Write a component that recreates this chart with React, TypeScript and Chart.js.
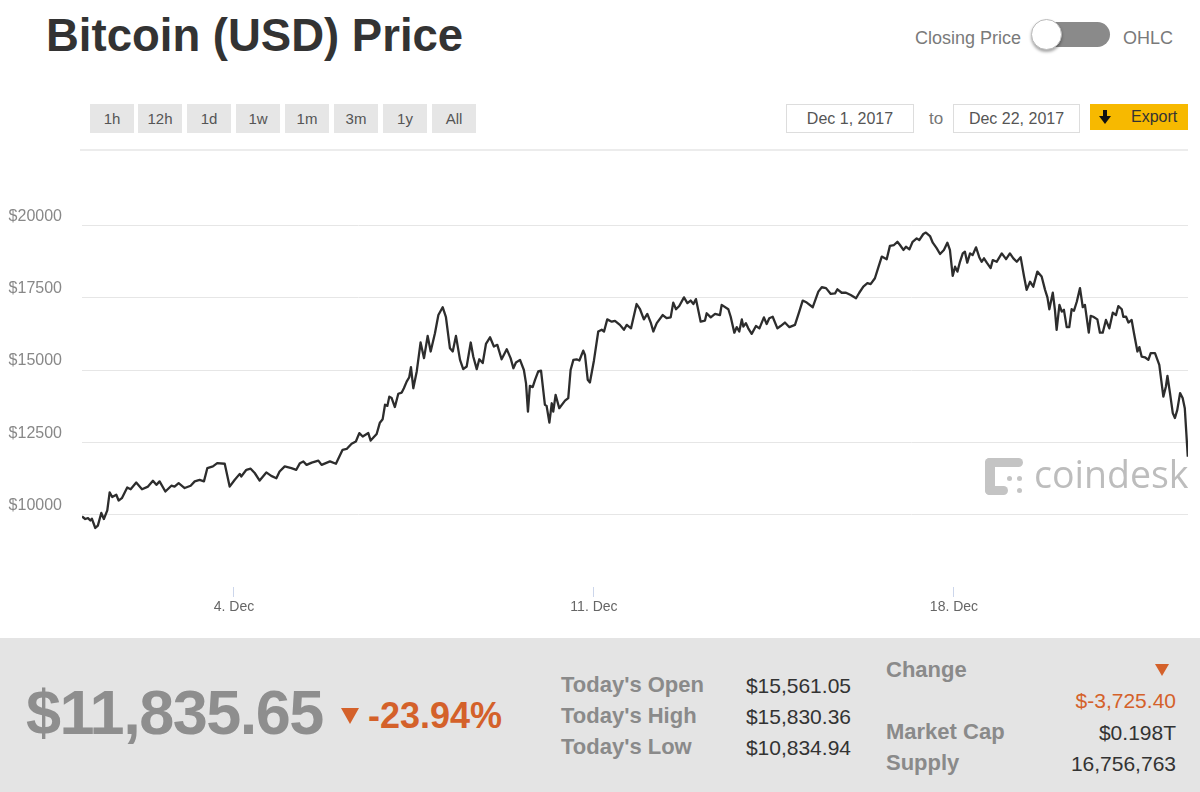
import React, { useEffect, useRef } from "react";
import { Chart, registerables } from "chart.js";

Chart.register(...registerables);

// Hours since 1 Dec 2017 00:00
const HOURS = [
  1.1, 2.6, 3.9, 5.0, 5.7, 7.3, 8.5, 10.1, 11.3, 12.9, 14.0, 15.2, 17.1, 18.2, 19.7, 22.2, 23.8, 26.4, 29.1, 31.9,
  34.2, 35.8, 37.3, 40.0, 42.8, 44.3, 46.2, 49.0, 51.8, 53.7, 56.0, 58.0, 59.6, 62.2, 64.2, 67.7, 70.0, 72.3, 74.7, 75.4,
  77.8, 79.8, 81.7, 84.0, 87.1, 89.4, 91.8, 93.3, 95.7, 98.8, 101.1, 102.8, 104.4, 105.9, 108.3, 111.4, 112.9, 116.8, 119.6, 122.7,
  124.6, 126.9, 128.9, 130.5, 132.1, 134.7, 135.8, 138.6, 140.1, 141.4, 142.5, 143.6, 144.5, 145.6, 147.1, 148.7, 150.3, 151.3, 152.6, 153.8,
  154.6, 155.7, 157.3, 159.1, 160.7, 162.4, 163.8, 165.8, 167.4, 169.4, 170.9, 172.8, 174.1, 175.6, 177.5, 179.0, 180.6, 182.5, 183.7, 185.3,
  186.5, 188.1, 189.6, 191.5, 193.3, 194.9, 196.9, 199.3, 201.1, 202.4, 203.6, 205.5, 207.3, 208.3, 209.2, 210.1, 211.4, 212.5, 214.0, 215.3,
  217.1, 217.9, 219.2, 220.3, 221.0, 222.1, 223.8, 226.5, 228.0, 229.1, 230.4, 231.9, 233.2, 233.8, 235.0, 235.8, 237.1, 238.1, 240.0, 242.0,
  243.6, 244.7, 246.2, 248.3, 249.8, 252.1, 254.0, 255.3, 257.3, 259.9, 261.5, 263.3, 264.9, 266.5, 267.7, 269.3, 272.1, 273.9, 275.8, 277.0,
  278.3, 279.8, 282.0, 283.6, 285.1, 286.4, 287.6, 289.8, 291.8, 292.6, 294.5, 296.5, 298.8, 299.6, 302.7, 303.8, 305.5, 306.6, 307.8, 309.0,
  309.7, 310.9, 312.0, 313.6, 315.6, 317.2, 319.3, 320.6, 321.8, 323.4, 325.6, 327.1, 329.1, 331.2, 333.8, 335.8, 337.4, 339.3, 342.1, 344.7,
  346.3, 348.3, 350.5, 352.5, 353.6, 355.6, 357.6, 359.8, 362.3, 363.8, 365.7, 367.6, 369.1, 371.1, 372.7, 374.3, 376.6, 378.1, 380.0, 381.6,
  382.8, 384.4, 385.6, 387.2, 388.7, 390.6, 391.8, 393.7, 394.9, 396.8, 398.1, 399.9, 401.5, 403.3, 404.9, 406.1, 407.4, 408.5, 409.6, 410.8,
  412.1, 413.1, 414.2, 415.5, 416.7, 418.3, 419.8, 420.9, 422.0, 423.3, 425.1, 426.1, 427.9, 430.3, 432.3, 434.1, 435.7, 437.3, 439.1, 440.7,
  441.9, 443.5, 445.0, 446.9, 448.9, 450.5, 451.6, 452.5, 454.1, 455.1, 455.9, 457.2, 458.3, 459.3, 460.6, 461.8, 462.9, 464.0, 465.3, 466.8,
  468.1, 469.1, 470.9, 471.8, 473.0, 474.9, 476.1, 477.4, 478.9, 480.5, 482.1, 483.6, 484.7, 486.3, 487.0, 488.3, 489.4, 490.9, 492.0, 493.6,
  494.5, 495.6, 497.1, 498.7, 499.8, 501.8, 503.8, 505.7, 506.9, 507.6, 508.8, 510.1, 511.1, 512.2, 513.5, 514.7, 515.7, 517.1,
];

// Closing price, USD
const PRICES = [
  9940, 9850, 9880, 9800, 9860, 9540, 9620, 10060, 9850, 10150, 10770, 10610, 10690, 10490, 10570, 10940, 10880, 11110, 10880, 10970,
  11170, 11030, 11150, 10800, 11000, 10970, 11090, 10920, 11000, 11150, 11200, 11150, 11610, 11670, 11780, 11760, 10970, 11200, 11410, 11320,
  11550, 11590, 11440, 11180, 11460, 11340, 11260, 11490, 11670, 11610, 11550, 11780, 11840, 11720, 11800, 11870, 11720, 11840, 11760, 12240,
  12270, 12450, 12530, 12820, 12700, 12820, 12560, 12790, 13180, 13300, 13800, 13760, 14080, 14030, 13720, 14180, 14220, 14370, 14600, 14750,
  15100, 14370, 14950, 15950, 15410, 16180, 15640, 16270, 16900, 17170, 16840, 15750, 15640, 16180, 15350, 15030, 15120, 15950, 15460, 15030,
  15370, 15240, 15900, 16130, 15810, 15870, 15370, 15720, 15410, 15060, 15260, 15350, 15000, 14540, 13560, 14450, 14410, 14660, 14950, 14980,
  13800, 13760, 13180, 13850, 13560, 14140, 13680, 13940, 14030, 15000, 15350, 15370, 15330, 15440, 15670, 15520, 14660, 14570, 15330, 16330,
  16390, 16330, 16750, 16670, 16700, 16560, 16390, 16560, 16440, 17280, 17100, 16750, 16940, 16640, 16330, 16620, 16900, 16790, 16820, 17330,
  17100, 17210, 17510, 17310, 17400, 17280, 17450, 16670, 16710, 16960, 16820, 16940, 16900, 17250, 17100, 16840, 16290, 16480, 16330, 16750,
  16500, 16620, 16440, 16250, 16520, 16440, 16820, 16590, 16790, 16840, 16440, 16520, 16640, 16480, 16560, 17020, 17400, 17330, 17170, 17710,
  17860, 17830, 17630, 17650, 17790, 17670, 17670, 17590, 17480, 17670, 17880, 18000, 17970, 18170, 18550, 18920, 18830, 19290, 19320, 19430,
  19320, 19150, 19260, 19170, 19430, 19550, 19490, 19700, 19750, 19630, 19400, 19210, 19010, 19150, 19400, 19150, 18250, 18570, 18400, 18740,
  19030, 19090, 18710, 19030, 18970, 19240, 18900, 18740, 18860, 18710, 18520, 18800, 18740, 19030, 18830, 19030, 18860, 18740, 18900, 18230,
  17770, 18050, 17880, 18400, 18230, 17770, 17510, 17100, 17670, 17080, 16390, 17250, 17020, 17080, 16480, 16480, 17100, 17050, 17360, 17830,
  17170, 17250, 16290, 16870, 16840, 16750, 16290, 16290, 16730, 16440, 16980, 16900, 17210, 17100, 16840, 16840, 16640, 16730, 16270, 15640,
  15790, 15460, 15440, 15350, 15580, 15580, 15180, 14080, 14430, 14800, 14200, 13510, 13340, 13620, 14200, 14030, 13680, 12000,
];

const X_TICK_HOURS = [72, 240, 408];
const X_TICK_LABELS = ["4. Dec", "11. Dec", "18. Dec"];
const Y_TICKS = [7500, 10000, 12500, 15000, 17500, 20000, 22500];
const X_MIN = 1.1;
const X_MAX = 517.2;
const Y_MIN = 7500;
const Y_MAX = 22500;

const RANGE_BUTTONS = ["1h", "12h", "1d", "1w", "1m", "3m", "1y", "All"];
const DATE_FROM = "Dec 1, 2017";
const DATE_TO = "Dec 22, 2017";
const CURRENT_PRICE = "$11,835.65";
const CHANGE_PCT = "-23.94%";
const STATS_LEFT = [
  ["Today's Open", "$15,561.05"],
  ["Today's High", "$15,830.36"],
  ["Today's Low", "$10,834.94"],
];
const CHANGE_VALUE = "$-3,725.40";
const MARKET_CAP = "$0.198T";
const SUPPLY = "16,756,763";

const FONT = '"Liberation Sans", Arial, "DejaVu Sans", sans-serif';
const ORANGE = "#d4612a";

function abs(left: number, top: number, extra: React.CSSProperties = {}): React.CSSProperties {
  return { position: "absolute", left, top, ...extra };
}

function Txt(props: {
  text: string;
  cy: number;
  size: number;
  left?: number;
  right?: number;
  bold?: boolean;
  color?: string;
  spacing?: number;
}) {
  const { text, cy, size, left, right, bold, color, spacing } = props;
  const st: React.CSSProperties = {
    position: "absolute",
    top: cy - size / 2,
    fontSize: size,
    lineHeight: `${size}px`,
    fontWeight: bold ? 700 : 400,
    color: color || "#333",
    whiteSpace: "nowrap",
    letterSpacing: spacing ?? 0,
    fontFamily: FONT,
  };
  if (left !== undefined) st.left = left;
  if (right !== undefined) st.right = right;
  return <div style={st}>{text}</div>;
}

function Triangle(props: { left: number; top: number; w: number; h: number; color: string }) {
  const { left, top, w, h, color } = props;
  return (
    <div
      style={abs(left, top, {
        width: 0,
        height: 0,
        borderLeft: `${w / 2}px solid transparent`,
        borderRight: `${w / 2}px solid transparent`,
        borderTop: `${h}px solid ${color}`,
      })}
    />
  );
}

export default function App() {
  const canvasRef = useRef<HTMLCanvasElement | null>(null);

  useEffect(() => {
    if (!canvasRef.current) return;
    const chart = new Chart(canvasRef.current, {
      type: "line",
      data: {
        datasets: [
          {
            data: HOURS.map((h, i) => ({ x: h, y: PRICES[i] })),
            borderColor: "#2d2d2d",
            borderWidth: 2.3,
            pointRadius: 0,
            tension: 0,
            fill: false,
            borderJoinStyle: "round",
          },
        ],
      },
      options: {
        animation: false,
        responsive: true,
        maintainAspectRatio: false,
        layout: { padding: { top: 5, right: 12, left: 0, bottom: 0 } },
        plugins: { legend: { display: false }, tooltip: { enabled: false } },
        scales: {
          x: {
            type: "linear",
            min: X_MIN,
            max: X_MAX,
            afterBuildTicks: (s: any) => {
              s.ticks = X_TICK_HOURS.map((v) => ({ value: v }));
            },
            afterFit: (s: any) => {
              s.height = 43;
              s.paddingLeft = 0;
              s.paddingRight = 0;
            },
            grid: {
              drawOnChartArea: false,
              drawTicks: true,
              tickLength: 10,
              color: "#ccd6eb",
              tickColor: "#ccd6eb",
            },
            border: { display: false },
            ticks: {
              autoSkip: false,
              maxRotation: 0,
              padding: 2,
              color: "#666",
              font: { family: FONT, size: 14 },
              callback: (v: any) => {
                const i = X_TICK_HOURS.indexOf(Number(v));
                return i >= 0 ? X_TICK_LABELS[i] : "";
              },
            },
          },
          y: {
            min: Y_MIN,
            max: Y_MAX,
            afterBuildTicks: (s: any) => {
              s.ticks = Y_TICKS.map((v) => ({ value: v }));
            },
            afterFit: (s: any) => {
              s.width = 82;
              s.paddingTop = 0;
              s.paddingBottom = 0;
            },
            grid: {
              drawTicks: false,
              lineWidth: 1,
              color: (c: any) =>
                c.tick && (c.tick.value === Y_MIN || c.tick.value === Y_MAX) ? "rgba(0,0,0,0)" : "#e6e6e6",
            },
            border: { display: false },
            ticks: {
              padding: 20,
              labelOffset: -9,
              color: "#888",
              font: { family: FONT, size: 16 },
              callback: (v: any) => (v === Y_MIN || v === Y_MAX ? "" : "$" + v),
            },
          },
        },
      },
    });
    return () => chart.destroy();
  }, []);

  const btnLefts = [90, 138, 187, 236, 285, 334, 383, 432];

  return (
    <div
      style={{
        position: "absolute",
        left: 0,
        top: 0,
        width: 1200,
        height: 792,
        overflow: "hidden",
        background: "#fff",
        fontFamily: FONT,
      }}
    >
      {/* Header */}
      <Txt text="Bitcoin (USD) Price" left={46} cy={36} size={45.5} bold color="#333" />
      <Txt text="Closing Price" right={179} cy={38} size={18} color="#7a7a7a" />
      <div style={abs(1036, 22, { width: 74, height: 25, borderRadius: 13, background: "#8a8a8a" })} />
      <div
        style={abs(1031, 19, {
          width: 29,
          height: 29,
          borderRadius: "50%",
          background: "#fff",
          border: "1px solid #bbb",
          boxShadow: "0 2px 3px rgba(0,0,0,0.35)",
        })}
      />
      <Txt text="OHLC" left={1123} cy={38} size={18} color="#7a7a7a" />

      {/* Range buttons */}
      {RANGE_BUTTONS.map((b, i) => (
        <div
          key={b}
          style={abs(btnLefts[i], 104, {
            width: 44,
            height: 29,
            background: "#e6e6e6",
            color: "#555",
            fontSize: 15,
            lineHeight: "29px",
            textAlign: "center",
            fontFamily: FONT,
          })}
        >
          {b}
        </div>
      ))}

      {/* Date range */}
      <div
        style={abs(786, 104, {
          width: 126,
          height: 27,
          border: "1px solid #ddd",
          color: "#555",
          fontSize: 16,
          lineHeight: "27px",
          textAlign: "center",
        })}
      >
        {DATE_FROM}
      </div>
      <Txt text="to" left={929} cy={118} size={17} color="#777" />
      <div
        style={abs(953, 104, {
          width: 125,
          height: 27,
          border: "1px solid #ddd",
          color: "#555",
          fontSize: 16,
          lineHeight: "27px",
          textAlign: "center",
        })}
      >
        {DATE_TO}
      </div>
      <div style={abs(1090, 104, { width: 98, height: 26, background: "#f7b900" })} />
      <div style={abs(1103, 110, { width: 4, height: 7, background: "#111" })} />
      <Triangle left={1099} top={116} w={12} h={8} color="#111" />
      <Txt text="Export" left={1131} cy={117} size={16} color="#333" />

      {/* separator */}
      <div style={abs(80, 149, { width: 1108, height: 2, background: "#ececec" })} />

      {/* Chart */}
      <div style={abs(0, 148, { width: 1200, height: 482 })}>
        <canvas ref={canvasRef} />
      </div>

      {/* coindesk watermark */}
      <div style={abs(985, 458, { width: 38, height: 9, borderRadius: 5, background: "#c4c4c4" })} />
      <div style={abs(985, 458, { width: 10, height: 37, borderRadius: 5, background: "#c4c4c4" })} />
      <div style={abs(985, 486, { width: 23, height: 9, borderRadius: 5, background: "#c4c4c4" })} />
      <div style={abs(1007, 476, { width: 5, height: 5, borderRadius: "50%", background: "#c4c4c4" })} />
      <div style={abs(1017, 476, { width: 5, height: 5, borderRadius: "50%", background: "#c4c4c4" })} />
      <div style={abs(1017, 488, { width: 5, height: 5, borderRadius: "50%", background: "#c4c4c4" })} />
      <div
        style={abs(1034, 455, {
          fontFamily: '"Open Sans", sans-serif',
          fontSize: 37.5,
          lineHeight: "38px",
          color: "#bdbdbd",
          whiteSpace: "nowrap",
        })}
      >
        coindesk
      </div>

      {/* Bottom panel */}
      <div style={abs(0, 638, { width: 1200, height: 154, background: "#e4e4e4" })} />
      <Txt text={CURRENT_PRICE} left={26} cy={712} size={63} bold color="#8e8e8e" spacing={-1.5} />
      <Triangle left={341} top={708} w={19} h={16} color={ORANGE} />
      <Txt text={CHANGE_PCT} left={368} cy={716} size={36} bold color={ORANGE} />

      {STATS_LEFT.map(([label, val], i) => (
        <React.Fragment key={label}>
          <Txt text={label} left={561} cy={685 + i * 31} size={22} bold color="#8a8a8a" />
          <Txt text={val} right={349} cy={685 + i * 31} size={21} color="#333" />
        </React.Fragment>
      ))}

      <Txt text="Change" left={886} cy={670} size={22} bold color="#8a8a8a" />
      <Triangle left={1155} top={664} w={14} h={12} color={ORANGE} />
      <Txt text={CHANGE_VALUE} right={24} cy={700} size={21} color={ORANGE} />
      <Txt text="Market Cap" left={886} cy={732} size={22} bold color="#8a8a8a" />
      <Txt text={MARKET_CAP} right={24} cy={732} size={21} color="#333" />
      <Txt text="Supply" left={886} cy={763} size={22} bold color="#8a8a8a" />
      <Txt text={SUPPLY} right={24} cy={763} size={21} color="#333" />
    </div>
  );
}
